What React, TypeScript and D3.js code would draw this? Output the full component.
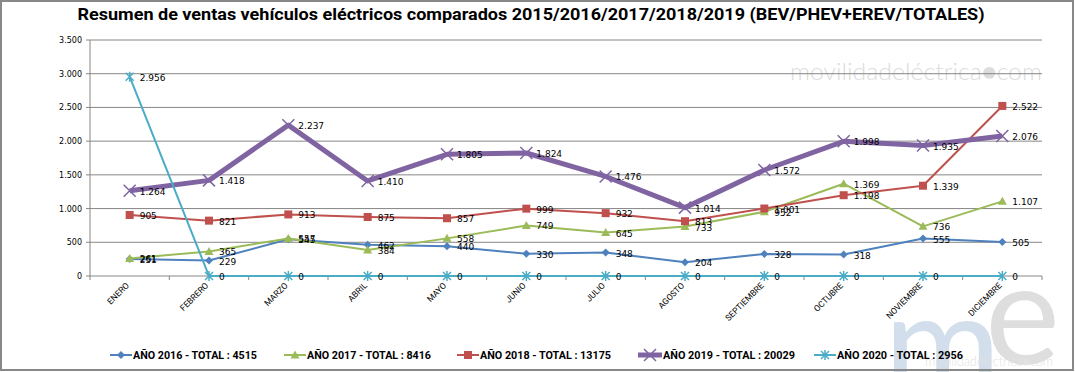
import React from 'react';
import * as d3 from 'd3';

const months = ['ENERO', 'FEBRERO', 'MARZO', 'ABRIL', 'MAYO', 'JUNIO', 'JULIO', 'AGOSTO', 'SEPTIEMBRE', 'OCTUBRE', 'NOVIEMBRE', 'DICIEMBRE'];

const ventas2016 = [251, 229, 545, 462, 440, 330, 348, 204, 328, 318, 555, 505];
const ventas2017 = [261, 365, 557, 384, 558, 749, 645, 733, 952, 1369, 736, 1107];
const ventas2018 = [905, 821, 913, 875, 857, 999, 932, 813, 1001, 1198, 1339, 2522];
const ventas2019 = [1264, 1418, 2237, 1410, 1805, 1824, 1476, 1014, 1572, 1998, 1935, 2076];
const ventas2020 = [2956, 0, 0, 0, 0, 0, 0, 0, 0, 0, 0, 0];

const legendLabels = [
  'AÑO 2016 - TOTAL : 4515',
  'AÑO 2017 - TOTAL : 8416',
  'AÑO 2018 - TOTAL : 13175',
  'AÑO 2019 - TOTAL : 20029',
  'AÑO 2020 - TOTAL : 2956',
];

const yTicks = [0, 500, 1000, 1500, 2000, 2500, 3000, 3500];

const title = 'Resumen de ventas vehículos eléctricos comparados 2015/2016/2017/2018/2019  (BEV/PHEV+EREV/TOTALES)';

const series = [
  { values: ventas2016, color: '#4F81BD', width: 2, marker: 'diamond' },
  { values: ventas2017, color: '#9BBB59', width: 2, marker: 'triangle' },
  { values: ventas2018, color: '#C0504D', width: 2, marker: 'square' },
  { values: ventas2019, color: '#8064A2', width: 5, marker: 'x' },
  { values: ventas2020, color: '#4BACC6', width: 2, marker: 'star' },
];

const W = 1075;
const H = 372;
const margin = { left: 90, right: 33, top: 40, bottom: 96 };

const x = d3.scaleBand<string>().domain(months).range([margin.left, W - margin.right]);
const y = d3.scaleLinear().domain([0, 3500]).range([H - margin.bottom, margin.top]);
const cx = (m: string) => (x(m) as number) + x.bandwidth() / 2;

const fmt = (v: number) => d3.format(',')(v).replace(/,/g, '.');

const sans = "Roboto, 'Liberation Sans', sans-serif";
const labelFont = "'DejaVu Sans', Verdana, sans-serif";

function Marker({ type, color, px, py }: { type: string; color: string; px: number; py: number }) {
  if (type === 'diamond') {
    return <path d={`M${px},${py - 4}L${px + 4},${py}L${px},${py + 4}L${px - 4},${py}Z`} fill={color} />;
  }
  if (type === 'triangle') {
    return <path d={`M${px},${py - 4.5}L${px + 4.5},${py + 3.5}L${px - 4.5},${py + 3.5}Z`} fill={color} />;
  }
  if (type === 'square') {
    return <rect x={px - 4} y={py - 4} width={8} height={8} fill={color} />;
  }
  if (type === 'x') {
    return (
      <path d={`M${px - 6},${py - 6}L${px + 6},${py + 6}M${px - 6},${py + 6}L${px + 6},${py - 6}`} stroke={color} strokeWidth={1.5} />
    );
  }
  return (
    <path
      d={`M${px - 4},${py - 4}L${px + 4},${py + 4}M${px - 4},${py + 4}L${px + 4},${py - 4}M${px},${py - 5}L${px},${py + 5}`}
      stroke={color}
      strokeWidth={1.5}
    />
  );
}

// legend layout: line start / length, text start / length
const legendPos = [
  { lx: 110, lw: 22, tx: 133, tw: 124 },
  { lx: 284, lw: 22, tx: 307, tw: 124 },
  { lx: 457, lw: 22, tx: 480, tw: 131 },
  { lx: 638, lw: 24, tx: 663, tw: 132 },
  { lx: 814, lw: 22, tx: 837, tw: 126 },
];
const legendY = 355;

export default function App() {
  const line = d3.line<number>().x((_, i) => cx(months[i])).y((d) => y(d));
  const ticksX = d3.range(months.length + 1).map((i) => margin.left + i * x.bandwidth());

  return (
    <div style={{ position: 'absolute', left: 0, top: 0 }}>
      <svg width={W} height={H} style={{ display: 'block', background: '#fff' }}>
        {/* watermarks */}
        <text x={790} y={80} fontFamily="Lato, sans-serif" fontWeight={300} fontSize={24} fill="#dcdcdc" textLength={252} lengthAdjust="spacingAndGlyphs">
          movilidadeléctrica●com
        </text>
        <text x={884} y={394} fontFamily="Lato, sans-serif" fontSize={142} fill="#d2deeb">m</text>
        <text x={985} y={364} fontFamily="Lato, sans-serif" fontSize={142} fill="#dedede">e</text>
        <text x={925} y={366} fontFamily="Lato, sans-serif" fontWeight={300} fontSize={14} fill="#e2e2e2" textLength={128} lengthAdjust="spacingAndGlyphs">
          movilidadeléctrica●com
        </text>

        <rect x={1} y={1} width={W - 3} height={H - 3} fill="none" stroke="#888" strokeWidth={2} />

        <text x={531} y={20} textAnchor="middle" fontFamily={sans} fontWeight="bold" fontSize={16} fill="#000" textLength={907} lengthAdjust="spacingAndGlyphs">
          {title}
        </text>

        {/* grid & y axis */}
        {yTicks.map((t) => (
          <g key={t}>
            <line x1={margin.left - 4} x2={W - margin.right} y1={y(t)} y2={y(t)} stroke="#868686" strokeWidth={1} />
            <text x={margin.left - 8} y={y(t) + 3} textAnchor="end" fontFamily={labelFont} fontSize={8} fill="#000">
              {fmt(t)}
            </text>
          </g>
        ))}
        <line x1={margin.left} x2={margin.left} y1={y(3500)} y2={y(0)} stroke="#868686" />
        {ticksX.map((tx, i) => (
          <line key={i} x1={tx} x2={tx} y1={y(0)} y2={y(0) + 4} stroke="#868686" />
        ))}
        {months.map((m) => (
          <text
            key={m}
            transform={`translate(${cx(m)},${y(0) + 10}) rotate(-45)`}
            textAnchor="end"
            fontFamily={sans}
            fontSize={8.5}
            fill="#000"
          >
            {m}
          </text>
        ))}

        {/* series */}
        {series.map((s, si) => (
          <g key={si}>
            <path d={line(s.values) as string} fill="none" stroke={s.color} strokeWidth={s.width} strokeLinejoin="round" />
            {s.values.map((v, i) => (
              <Marker key={i} type={s.marker} color={s.color} px={cx(months[i])} py={y(v)} />
            ))}
          </g>
        ))}
        {series.map((s, si) => (
          <g key={'l' + si}>
            {s.values.map((v, i) => (
              <text key={i} x={cx(months[i]) + 10} y={y(v) + 4} fontFamily={labelFont} fontSize={9} fill="#000">
                {fmt(v)}
              </text>
            ))}
          </g>
        ))}

        {/* legend */}
        {series.map((s, si) => {
          const p = legendPos[si];
          return (
            <g key={'lg' + si}>
              <line x1={p.lx} x2={p.lx + p.lw} y1={legendY} y2={legendY} stroke={s.color} strokeWidth={s.width} />
              <Marker type={s.marker} color={s.color} px={p.lx + p.lw / 2} py={legendY} />
              <text x={p.tx} y={legendY + 4} fontFamily={sans} fontWeight="bold" fontSize={11} fill="#000" textLength={p.tw} lengthAdjust="spacingAndGlyphs">
                {legendLabels[si]}
              </text>
            </g>
          );
        })}
      </svg>
    </div>
  );
}
